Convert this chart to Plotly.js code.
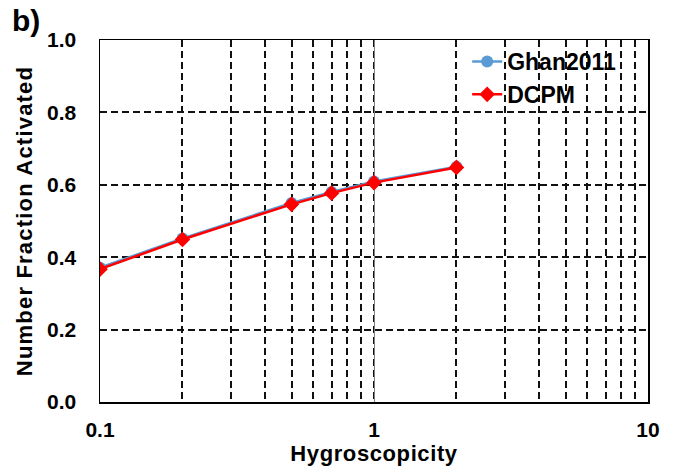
<!DOCTYPE html>
<html>
<head>
<meta charset="utf-8">
<script src="https://cdn.plot.ly/plotly-3.0.1.min.js"></script>
<style>
  html, body { margin: 0; padding: 0; background: #fff; }
  #chart { width: 679px; height: 476px; }
  /* widen the axis titles a little */
  #chart .ytitle { letter-spacing: 1.2px; }
  #chart .xtitle { letter-spacing: 0.6px; }
  /* keep the dashed grid sharp */
  #chart .gridlayer path, #chart .minor-gridlayer path { shape-rendering: crispEdges; }
</style>
</head>
<body>
<div id="chart"></div>
<script>
// Hygroscopicity values (log scale)
const hygroscopicity = [0.1, 0.2, 0.5, 0.7, 1, 2];
// Number fraction activated for each scheme
const ghan2011 = [0.371, 0.452, 0.550, 0.580, 0.609, 0.650];
const dcpm = [0.367, 0.449, 0.546, 0.577, 0.606, 0.648];
const yTickVals = [0, 0.2, 0.4, 0.6, 0.8, 1.0];
const yTickText = ['0.0', '0.2', '0.4', '0.6', '0.8', '1.0'];
const xTickVals = [0.1, 1, 10];
const xTickText = ['0.1', '1', '10'];

const font = 'Liberation Sans, Arial, sans-serif';
const dash = '7px,4px';
const clear = 'rgba(0,0,0,0)';

const traces = [
  {
    x: hygroscopicity, y: ghan2011, name: 'Ghan2011',
    mode: 'lines+markers', type: 'scatter',
    line: { color: '#5B9BD5', width: 2.5 },
    marker: { symbol: 'circle', size: 12, color: '#5B9BD5' }
  },
  {
    x: hygroscopicity, y: dcpm, name: 'DCPM',
    mode: 'lines+markers', type: 'scatter',
    line: { color: '#FF0000', width: 2.5 },
    marker: { symbol: 'diamond', size: 12, color: '#FF0000' }
  }
];

const layout = {
  width: 679, height: 476,
  margin: { l: 100, r: 31, t: 40, b: 74 },
  paper_bgcolor: '#fff', plot_bgcolor: '#fff',
  font: { family: font, color: '#000' },
  showlegend: true,
  legend: {
    x: 0.67, xanchor: 'left', y: 1.0, yanchor: 'top',
    bgcolor: clear,
    font: { family: font, size: 23, color: '#000', weight: 'bold' },
    tracegroupgap: 0, itemwidth: 30
  },
  xaxis: {
    type: 'log', range: [-1, 1],
    tickvals: xTickVals, ticktext: xTickText,
    ticks: 'outside', ticklen: 8, tickcolor: clear,
    tickfont: { family: font, size: 21, weight: 'bold' },
    showgrid: true, gridcolor: '#808080', gridwidth: 1,
    minor: { dtick: 'D1', showgrid: true, gridcolor: '#111', gridwidth: 2, griddash: dash, ticks: '' },
    showline: true, linecolor: '#000', linewidth: 1.5, mirror: true,
    zeroline: false,
    title: { text: 'Hygroscopicity', font: { family: font, size: 22, weight: 'bold' }, standoff: 0 }
  },
  yaxis: {
    range: [0, 1],
    tickvals: yTickVals, ticktext: yTickText,
    ticks: 'outside', ticklen: 18, tickcolor: clear,
    tickfont: { family: font, size: 21, weight: 'bold' },
    showgrid: true, gridcolor: '#111', gridwidth: 2, griddash: dash,
    showline: true, linecolor: '#000', linewidth: 1.5, mirror: true,
    zeroline: false,
    title: { text: 'Number Fraction Activated', font: { family: font, size: 22, weight: 'bold' }, standoff: 8 }
  },
  annotations: [
    {
      text: 'b)', xref: 'paper', yref: 'paper', x: -0.164, y: 1.055,
      xanchor: 'left', yanchor: 'middle', showarrow: false,
      font: { family: font, size: 30, weight: 'bold', color: '#000' }
    }
  ]
};

Plotly.newPlot('chart', traces, layout, { displayModeBar: false, staticPlot: true });
</script>
</body>
</html>
